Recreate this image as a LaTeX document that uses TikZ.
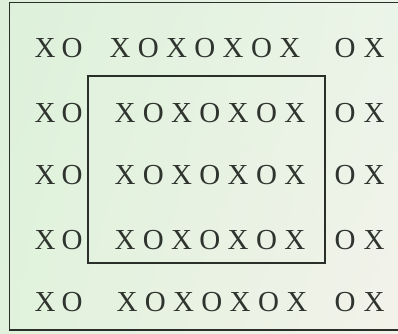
\documentclass[tikz,border=0pt]{standalone}
\usepackage{fontspec}
\setmainfont{Liberation Serif}
\usetikzlibrary{shadings}
\definecolor{paperMint}{HTML}{DDF1DA}
\definecolor{paperMintLow}{HTML}{E0F2DC}
\definecolor{paperPale}{HTML}{EBF4E8}
\definecolor{paperCream}{HTML}{F3F2EA}
\definecolor{inkGrey}{HTML}{2F342F}
\definecolor{frameInk}{HTML}{2A2F2A}

\begin{document}
\begin{tikzpicture}[x=1pt, y=-1pt,
  letter/.style={font=\fontsize{29}{29}\selectfont, text=inkGrey, inner sep=0pt},
  frame/.style={draw=frameInk, line width=1.3pt}]
  \useasboundingbox (0,0) rectangle (398,333);
  \shade[upper left=paperMint, lower left=paperMintLow,
         upper right=paperPale, lower right=paperCream] (0,0) rectangle (398,333);
  % outer and inner frames
  \draw[frame] (9.5,2.5) rectangle (410,330);
  \draw[frame] (88,76) rectangle (325,263);
  % rows of letters
  \foreach \r/\y/\s in {1/48/120, 2/113/125, 3/175/125, 4/240/125, 5/302/127} {
    \node[letter] (left\r a) at (45,\y) {X};
    \node[letter] (left\r b) at (72,\y) {O};
    \foreach \c/\t in {0/X, 1/O, 2/X, 3/O, 4/X, 5/O, 6/X}
      \node[letter] (mid\r\c) at (\s+28.3*\c,\y) {\t};
    \node[letter] (right\r a) at (345,\y) {O};
    \node[letter] (right\r b) at (374,\y) {X};
  }
\end{tikzpicture}
\end{document}
